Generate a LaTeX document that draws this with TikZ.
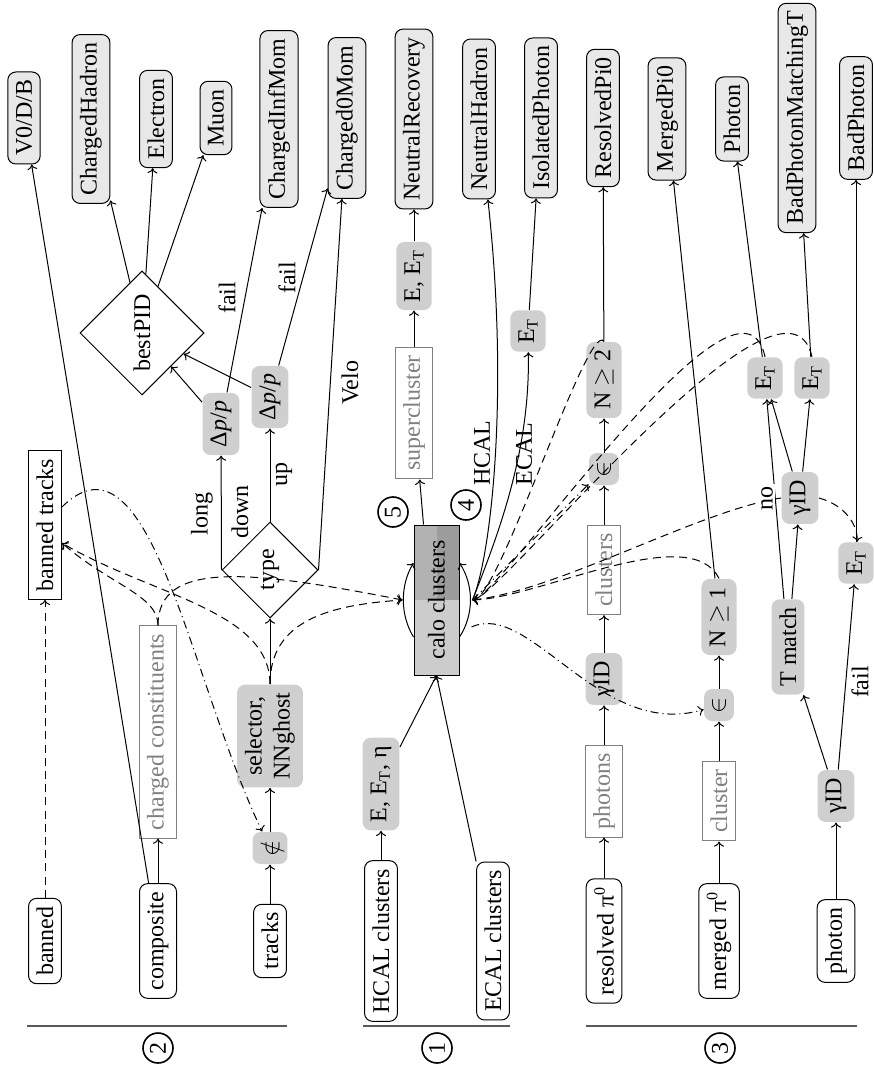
\documentclass[tikz,border=0pt]{standalone}
\usepackage{fontspec}
\setmainfont{Liberation Serif}
\usetikzlibrary{shapes.geometric,calc,arrows.meta}
\begin{document}
\begin{tikzpicture}[x=0.5pt,y=-0.5pt, line width=0.5pt, >={To[width=5pt,length=2.6pt]}]
\tikzset{
 base/.style={rotate=90, inner sep=4pt, font=\fontsize{12}{14}\selectfont},
 inp/.style={base, draw, rounded corners=4pt, fill=white},
 outp/.style={base, draw, rounded corners=4pt, fill=gray!18},
 op/.style={base, fill=gray!38, rounded corners=4pt},
 setn/.style={base, draw=gray, text=gray},
 lab/.style={base, inner sep=1pt},
 num/.style={base, circle, draw, thick, inner sep=0pt, minimum size=15pt},
 dec/.style={base, diamond, draw, aspect=1, inner sep=0pt},
 dsh/.style={dash pattern=on 4pt off 2.6pt,->},
 dsd/.style={dash pattern=on 4pt off 2pt on 0.5pt off 2pt,->},
 sep/.style={gray!70!black, line width=0.7pt}
}
\useasboundingbox (0,0) rectangle (873,1068);
% inputs
\node[inp] (banned) at (45,941) {banned};
\node[inp] (composite) at (158,941) {composite};
\node[inp] (tracks) at (270,941) {tracks};
\node[inp] (hcalc) at (381,941) {HCAL clusters};
\node[inp] (ecalc) at (493,941) {ECAL clusters};
\node[inp] (respi) at (604,941) {resolved π\textsuperscript{0}};
\node[inp] (merpi) at (719,941) {merged π\textsuperscript{0}};
\node[inp] (photon) at (836,941) {photon};
% outputs
\node[outp] (V0) at (24,118) {V0/D/B};
\node[outp] (ChH) at (91,119) {ChargedHadron};
\node[outp] (Ele) at (156,119) {Electron};
\node[outp] (Muon) at (216,118) {Muon};
\node[outp] (CIM) at (279,119) {ChargedInfMom};
\node[outp] (C0M) at (347,118) {Charged0Mom};
\node[outp] (NR) at (414,119) {NeutralRecovery};
\node[outp] (NH) at (479,119) {NeutralHadron};
\node[outp] (IsoP) at (541,118) {IsolatedPhoton};
\node[outp] (RPi0) at (603,118) {ResolvedPi0};
\node[outp] (MPi0) at (667,119) {MergedPi0};
\node[outp] (Pho) at (732,119) {Photon};
\node[outp] (BPMT) at (797,118) {BadPhotonMatchingT};
\node[outp] (BP) at (856,118) {BadPhoton};
% middle, group 2
\node[base, draw] (bannedtr) at (45,525) {banned tracks};
\node[setn] (charged) at (158,732) {charged constituents};
\node[op] (notin) at (270,848) {$\notin$};
\node[op, align=center] (selector) at (270,736) {selector,\\NNghost};
\node[dec, minimum size=48pt] (type) at (270,570) {type};
\node[op] (dpl) at (221,424) {Δ\textit{p}/\textit{p}};
\node[op] (dpu) at (270,397) {Δ\textit{p}/\textit{p}};
\node[dec, minimum size=62pt] (bestpid) at (142,333) {bestPID};
% group 1
\node[op] (ecals) at (381,784) {E, E\textsubscript{T}, η};
\fill[gray!40] (414,525) rectangle (459,675);
\fill[gray!60] (414,525) rectangle (436.5,600);
\fill[gray!78] (436.5,525) rectangle (459,600);
\node[base, draw, minimum width=75pt, minimum height=22.5pt] (calo) at (436.5,600) {calo clusters};
\node[setn] (super) at (414,413) {supercluster};
\node[op] (eet) at (414,276) {E, E\textsubscript{T}};
\node[op] (ecalET) at (528,331) {E\textsubscript{T}};
% group 3
\node[setn] (photons) at (604,791) {photons};
\node[op] (gid1) at (604,679) {γID};
\node[setn] (clusters) at (604,570) {clusters};
\node[op] (inres) at (604,469) {$\in$};
\node[op] (nge2) at (604,380) {N $\geq$ 2};
\node[setn] (clusterm) at (719,801) {cluster};
\node[op] (inmer) at (719,705) {$\in$};
\node[op] (nge1) at (719,617) {N $\geq$ 1};
\node[op] (gidp) at (836,796) {γID};
\node[op] (tmatch) at (788,647) {T match};
\node[op] (gid2) at (800,498) {γID};
\node[op] (etl) at (765,378) {E\textsubscript{T}};
\node[op] (etr) at (812,378) {E\textsubscript{T}};
\node[op] (etb) at (856,563) {E\textsubscript{T}};
% labels
\node[lab] (llong) at (202,514) {long};
\node[lab] (ldown) at (240,512) {down};
\node[lab] (lup) at (284,475) {up};
\node[lab] (lfail1) at (227,298) {fail};
\node[lab] (lfail2) at (287,278) {fail};
\node[lab] (lvelo) at (350,383) {Velo};
\node[lab] (lhcal) at (482,453) {HCAL};
\node[lab] (lecal) at (524,454) {ECAL};
\node[lab] (lfail3) at (860,682) {fail};
\node[num] (n5) at (393,512) {5};
\node[num] (n4) at (466,505) {4};
\node[num] (n2) at (158,1048) {2};
\node[num] (n1) at (437,1048) {1};
\node[num] (n3) at (720,1048) {3};
% separators
\draw[sep] (27,1026) -- (287,1026);
\draw[sep] (363,1026) -- (510,1026);
\draw[sep] (586,1026) -- (857,1026);
% coordinates
\coordinate (calL) at ($(calo.north)+(-11,0)$);
\coordinate (calR) at ($(calo.south)+(13,0)$);
\coordinate (calR2) at ($(calo.south)+(12,27)$);
\coordinate (caloTop) at ($(calo.east)+(-13,0)$);
\coordinate (btin) at ($(bannedtr.south)+(0,18)$);
\coordinate (btout) at ($(bannedtr.south)+(0,-18)$);
% solid edges group 2
\draw[->] (composite) -- (charged);
\draw[->] (composite) -- (V0);
\draw[->] (tracks) -- (notin);
\draw[->] (notin) -- (selector);
\draw[->] (selector) -- (type);
\draw[->] (type.north) -- (dpl);
\draw[->] (type.east) -- (dpu);
\draw[->] (type.south) -- (C0M);
\draw[->] (dpl) -- (bestpid);
\draw[->] (dpu) -- (bestpid);
\draw[->] (dpl) -- (CIM);
\draw[->] (dpu) -- (C0M);
\draw[->] (bestpid) -- (ChH);
\draw[->] (bestpid) -- (Ele);
\draw[->] (bestpid) -- (Muon);
% solid edges group 1
\draw[->] (hcalc) -- (ecals);
\draw[->] (ecals) -- (calo.west);
\draw[->] (ecalc) -- (calo.west);
\draw[->] (caloTop) -- (super);
\draw[->] (super) -- (eet);
\draw[->] (eet) -- (NR);
\draw[->] (calR) .. controls (490,560) and (510,400) .. (NH);
\draw[->] (calR) .. controls (500,530) and (530,450) .. (ecalET);
\draw[->] (ecalET) -- (IsoP);
\draw[->] ($(calo.north)+(0,37)$) .. controls (400,615) and (400,585) .. ($(calo.north)+(0,-37)$);
\draw[->] ($(calo.south)+(0,37)$) .. controls (474,615) and (474,585) .. ($(calo.south)+(0,-37)$);
% solid edges group 3
\draw[->] (respi) -- (photons);
\draw[->] (photons) -- (gid1);
\draw[->] (gid1) -- (clusters);
\draw[->] (clusters) -- (inres);
\draw[->] (inres) -- (nge2);
\draw[->] (nge2) -- (RPi0);
\draw[->] (merpi) -- (clusterm);
\draw[->] (clusterm) -- (inmer);
\draw[->] (inmer) -- (nge1);
\draw[->] (nge1) -- (MPi0);
\draw[->] (photon) -- (gidp);
\draw[->] (gidp) -- (tmatch);
\draw[->] (gidp) -- (etb);
\draw[->] (etb) -- (BP);
\draw[->] (tmatch) -- (gid2);
\draw[->] (tmatch) -- (etl);
\draw[->] (gid2) -- (etl);
\draw[->] (gid2) -- (etr);
\draw[->] (etl) -- (Pho);
\draw[->] (etr) -- (BPMT);
% dashed edges
\draw[dsh] (banned) -- (bannedtr);
\draw[dsh] (charged.east) .. controls (158,595) and (110,585) .. (btin);
\draw[dsh] (selector.east) .. controls (270,610) and (150,595) .. (btin);
\draw[dsh] (charged.east) .. controls (158,560) and (250,570) .. (calL);
\draw[dsh] (selector.east) .. controls (270,620) and (330,605) .. (calL);
\draw[dsd] (btout) .. controls (150,420) and (190,680) .. (notin);
\draw[dsd] (calR) -- (inres);
\draw[dsd] (calR2) .. controls (530,600) and (600,740) .. (inmer);
\draw[dsh] (nge2.east) .. controls (588,318) and (500,598) .. (calR);
\draw[dsh] (etl.east) .. controls (740,240) and (500,598) .. (calR);
\draw[dsh] (etr.east) .. controls (785,240) and (500,598) .. (calR);
\draw[dsh] (nge1.east) .. controls (690,520) and (540,598) .. (calR);
\draw[dsh] (gid2.north) .. controls (700,510) and (560,590) .. (calR);
\draw[dsh] (gid2.south) .. controls (845,505) and (858,525) .. (etb);
\node[lab, fill=white] (lno) at (767,498) {no};
\end{tikzpicture}
\end{document}
